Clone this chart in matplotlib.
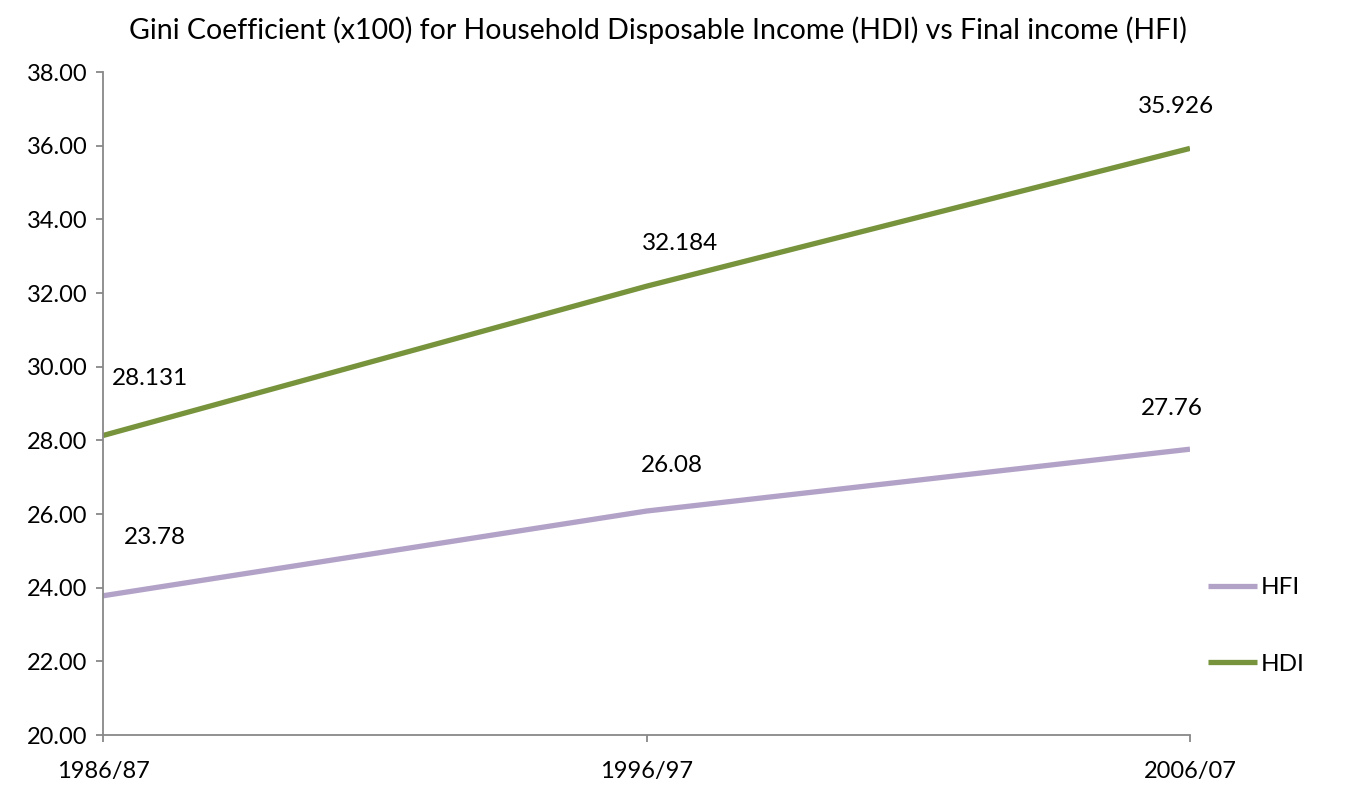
import matplotlib
matplotlib.use("Agg")
import matplotlib.pyplot as plt

categories = ["1986/87", "1996/97", "2006/07"]
hdi = [28.131, 32.184, 35.926]
hfi = [23.78, 26.08, 27.76]
hdi_labels = ["28.131", "32.184", "35.926"]
hfi_labels = ["23.78", "26.08", "27.76"]
yticks = [20, 22, 24, 26, 28, 30, 32, 34, 36, 38]

plt.rcParams['font.family'] = ['Lato', 'DejaVu Sans']

fig = plt.figure(figsize=(13.57, 7.92), dpi=100)
ax = fig.add_axes([103/1357, 1-735/792, (1190-103)/1357, (735-72)/792])

green = "#77933C"
purple = "#B3A2C7"
x = list(range(len(categories)))
l_hdi, = ax.plot(x, hdi, color=green, lw=3.8, solid_capstyle='butt', label="HDI")
l_hfi, = ax.plot(x, hfi, color=purple, lw=3.8, solid_capstyle='butt', label="HFI")

hdi_off = [(47, 57), (34, 43), (-14, 42)]
hfi_off = [(52, 58), (25, 46), (-18, 41)]
for xi, v, lab, off in zip(x, hdi, hdi_labels, hdi_off):
    ax.annotate(lab, (xi, v), xytext=(off[0], off[1]), textcoords='offset pixels',
                ha='center', va='center', fontsize=17.5, color='black')
for xi, v, lab, off in zip(x, hfi, hfi_labels, hfi_off):
    ax.annotate(lab, (xi, v), xytext=(off[0], off[1]), textcoords='offset pixels',
                ha='center', va='center', fontsize=17.5, color='black')

ax.set_xlim(0, 2)
ax.set_ylim(20, 38)
ax.set_yticks(yticks)
ax.set_yticklabels([f"{v:.2f}" for v in yticks])
ax.set_xticks(x)
ax.set_xticklabels(categories)

for s in ['top', 'right']:
    ax.spines[s].set_visible(False)
for s in ['left', 'bottom']:
    ax.spines[s].set_color('#888888')
    ax.spines[s].set_linewidth(1.3)
ax.tick_params(axis='both', colors='#888888', length=5, width=1.3, labelsize=17,
               labelcolor='black')
ax.tick_params(axis='y', pad=6)
ax.tick_params(axis='x', pad=14)

fig.text((118+1198)/2/1357, 1-30/792,
         "Gini Coefficient (x100) for Household Disposable Income (HDI) vs Final income (HFI)",
         ha='center', va='center', fontsize=20.5, color='black')

fig.legend(handles=[l_hfi, l_hdi], labels=["HFI", "HDI"],
           loc='center left', bbox_to_anchor=(1191/1357, 1-626/792),
           frameon=False, fontsize=17.5, handlelength=2.0, handletextpad=0.15,
           labelspacing=2.3, borderpad=0.2)

fig.savefig("out.png", dpi=100)
